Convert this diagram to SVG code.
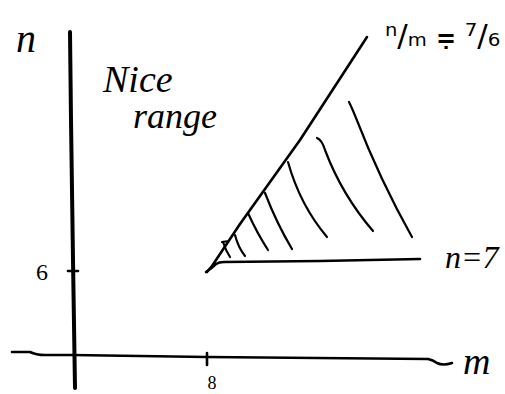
<svg xmlns="http://www.w3.org/2000/svg" width="505" height="394" viewBox="0 0 505 394">
<style>
.ink{fill:none;stroke:#000;stroke-linecap:round;stroke-linejoin:round}
.axis{stroke-width:4}
.line{stroke-width:2.6}
.hatch{stroke-width:2.2}
.t{font-family:"Liberation Serif",serif;font-style:italic;fill:#000}
.u{font-style:normal}
.r{font-family:"DejaVu Sans",sans-serif;font-style:normal;fill:#000}
</style>
<rect width="505" height="394" fill="#fff"/>
<g id="axes">
  <path class="ink axis" d="M70,32 L71,120 L73,260 L75,388"/>
  <path class="ink line" d="M12,352 L30,352 Q36,355 45,355 L72,355 L207,357 L428,359 Q433,360 437,363 Q443,366 452,363"/>
  <path class="ink line" d="M207,353 L207,365"/>
  <path class="ink line" d="M68,271 L78,271"/>
</g>
<g id="region">
  <path class="ink line" d="M207,272 L212,266 L240,224 L300,140 L367,37"/>
  <path class="ink line" d="M206,272 Q212,268 216,264 Q219,262 224,262 L320,261 L420,259"/>
  <path class="ink hatch" d="M222,242 L229,241 M223,242 Q226,251 230,257"/>
  <path class="ink hatch" d="M235,235 Q238,247 245,256"/>
  <path class="ink hatch" d="M248,213 Q257,233 268,250"/>
  <path class="ink hatch" d="M265,193 Q277,224 292,249"/>
  <path class="ink hatch" d="M288,162 Q300,205 327,237"/>
  <path class="ink hatch" d="M317,138 Q322,140 325,150 Q342,195 373,231"/>
  <path class="ink hatch" d="M349,102 Q352,108 356,118 Q380,180 412,237"/>
</g>
<g id="labels">
  <text class="t" x="16" y="52" font-size="40">n</text>
  <text class="t u" x="42" y="280" font-size="24" text-anchor="middle">6</text>
  <text class="t u" x="212" y="389" font-size="18" text-anchor="middle">8</text>
  <text class="t" x="463" y="374" font-size="38">m</text>
  <text class="t" x="103" y="92" font-size="38">Nice</text>
  <text class="t" x="133" y="128" font-size="36">range</text>
  <text class="t" x="445" y="268" font-size="32">n=7</text>
</g>
<g id="ratio-label">
  <text class="r" x="385" y="46" font-size="31">ⁿ/ₘ ⩦ ⁷/₆</text>
</g>
</svg>
